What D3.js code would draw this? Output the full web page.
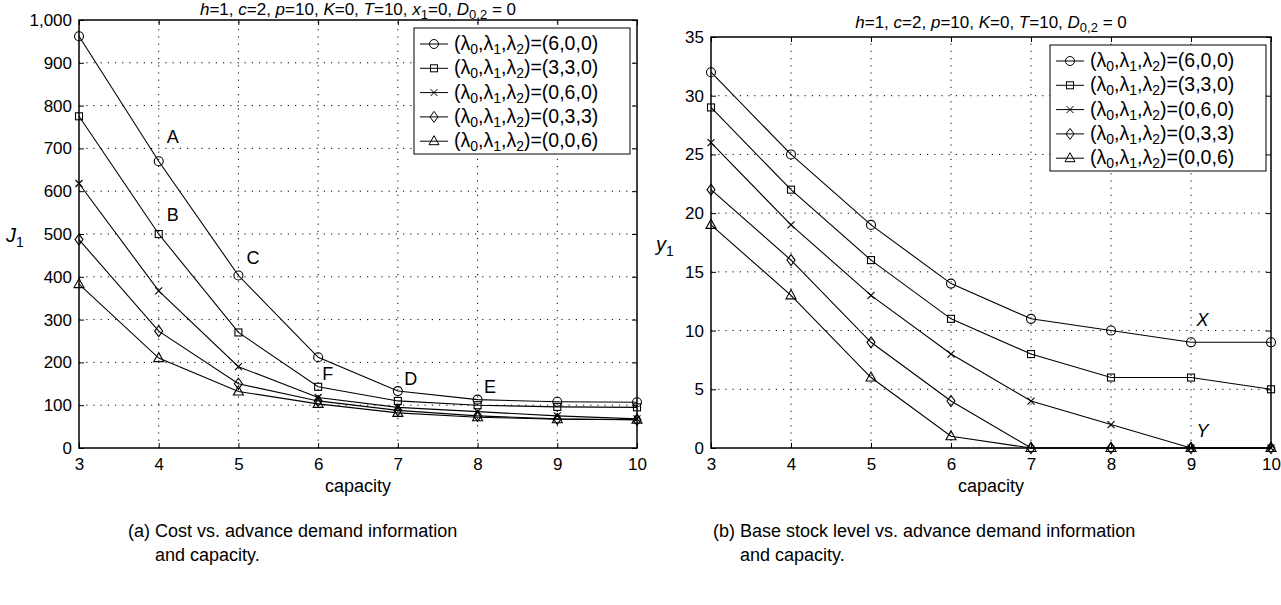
<!DOCTYPE html>
<html>
<head>
<meta charset="utf-8">
<script src="https://cdn.jsdelivr.net/npm/d3@7"></script>
<style>
  body { margin: 0; background: #fff; }
  svg text { font-family: "Liberation Sans", Arial, sans-serif; fill: #000; }
</style>
</head>
<body>
<svg width="1281" height="605"></svg>
<script>
var capacity = [3, 4, 5, 6, 7, 8, 9, 10];
var seriesNames = ["(6,0,0)", "(3,3,0)", "(0,6,0)", "(0,3,3)", "(0,0,6)"];
var markers = ["circle", "square", "cross", "diamond", "triangle"];

// cost J1
var cost600 = [962, 670, 403, 212, 133, 113, 108, 107];
var cost330 = [775, 500, 270, 143, 110, 100, 96, 95];
var cost060 = [618, 367, 190, 118, 95, 85, 75, 68];
var cost033 = [487, 273, 150, 110, 88, 75, 68, 66];
var cost006 = [383, 210, 132, 103, 82, 72, 67, 66];

// base stock y1
var stock600 = [32, 25, 19, 14, 11, 10, 9, 9];
var stock330 = [29, 22, 16, 11, 8, 6, 6, 5];
var stock060 = [26, 19, 13, 8, 4, 2, 0, 0];
var stock033 = [22, 16, 9, 4, 0, 0, 0, 0];
var stock006 = [19, 13, 6, 1, 0, 0, 0, 0];

var costTicks = [0, 100, 200, 300, 400, 500, 600, 700, 800, 900, 1000];
var stockTicks = [0, 5, 10, 15, 20, 25, 30, 35];

var costLabels = [{t: "A", x: 4.1, y: 712}, {t: "B", x: 4.1, y: 530}, {t: "C", x: 5.1, y: 430},
                  {t: "F", x: 6.05, y: 160}, {t: "D", x: 7.08, y: 148}, {t: "E", x: 8.08, y: 128}];
var stockLabels = [{t: "X", x: 9.07, y: 10.4}, {t: "Y", x: 9.07, y: 0.9}];

var svg = d3.select("svg");

function drawMarker(g, type, x, y) {
    if (type === "circle") {
        g.append("circle").attr("cx", x).attr("cy", y).attr("r", 4.5);
    } else if (type === "square") {
        g.append("rect").attr("x", x - 3.5).attr("y", y - 3.5).attr("width", 7).attr("height", 7);
    } else if (type === "cross") {
        g.append("path").attr("d", "M" + (x - 3.5) + "," + (y - 3.5) + "L" + (x + 3.5) + "," + (y + 3.5) +
            "M" + (x - 3.5) + "," + (y + 3.5) + "L" + (x + 3.5) + "," + (y - 3.5));
    } else if (type === "diamond") {
        g.append("path").attr("d", "M" + x + "," + (y - 5.5) + "L" + (x + 4) + "," + y + "L" + x + "," + (y + 5.5) + "L" + (x - 4) + "," + y + "Z");
    } else {
        g.append("path").attr("d", "M" + x + "," + (y - 5.5) + "L" + (x + 5) + "," + (y + 3.5) + "L" + (x - 5) + "," + (y + 3.5) + "Z");
    }
}

function panel(opt) {
    var g = svg.append("g");
    var x = d3.scaleLinear().domain([3, 10]).range([opt.left, opt.right]);
    var y = d3.scaleLinear().domain([0, opt.ymax]).range([opt.bottom, opt.top]);

    // grid
    var grid = g.append("g").attr("stroke", "#000").attr("stroke-width", 1).attr("stroke-dasharray", "1.2,6");
    capacity.slice(1, -1).forEach(function (c) {
        grid.append("line").attr("x1", x(c)).attr("x2", x(c)).attr("y1", opt.bottom).attr("y2", opt.top);
    });
    opt.ticks.slice(1, -1).forEach(function (t) {
        grid.append("line").attr("x1", opt.left).attr("x2", opt.right).attr("y1", y(t)).attr("y2", y(t));
    });

    // axes with inward ticks
    g.append("g").attr("transform", "translate(0," + opt.bottom + ")")
        .call(d3.axisBottom(x).tickValues(capacity).tickSize(-5).tickPadding(10).tickFormat(d3.format("d")))
        .call(function (a) { a.select(".domain").remove(); a.selectAll("text").attr("font-size", 17).style("font-family", null); });
    g.append("g").attr("transform", "translate(0," + opt.top + ")")
        .call(d3.axisTop(x).tickValues(capacity).tickSize(-5).tickFormat(""))
        .call(function (a) { a.select(".domain").remove(); });
    g.append("g").attr("transform", "translate(" + opt.left + ",0)")
        .call(d3.axisLeft(y).tickValues(opt.ticks).tickSize(-5).tickPadding(7).tickFormat(opt.fmt))
        .call(function (a) { a.select(".domain").remove(); a.selectAll("text").attr("font-size", 17).style("font-family", null); });
    g.append("g").attr("transform", "translate(" + opt.right + ",0)")
        .call(d3.axisRight(y).tickValues(opt.ticks).tickSize(-5).tickFormat(""))
        .call(function (a) { a.select(".domain").remove(); });
    g.append("rect").attr("x", opt.left).attr("y", opt.top).attr("width", opt.right - opt.left)
        .attr("height", opt.bottom - opt.top).attr("fill", "none").attr("stroke", "#000").attr("stroke-width", 1.5);

    // series
    var line = d3.line().x(function (d, i) { return x(capacity[i]); }).y(function (d) { return y(d); });
    opt.series.forEach(function (s, k) {
        var sg = g.append("g").attr("fill", "none").attr("stroke", "#000").attr("stroke-width", 1.1);
        sg.append("path").attr("d", line(s));
        s.forEach(function (v, i) { drawMarker(sg, markers[k], x(capacity[i]), y(v)); });
    });

    // letter labels
    opt.labels.forEach(function (l) {
        g.append("text").attr("x", x(l.x)).attr("y", y(l.y)).attr("font-size", 18)
            .attr("font-style", opt.italicLabels ? "italic" : null).text(l.t);
    });

    // title
    var title = g.append("text").attr("x", (opt.left + opt.right) / 2).attr("y", opt.titleY)
        .attr("text-anchor", "middle").attr("font-size", 17);
    opt.title.forEach(function (p) {
        var ts = title.append("tspan").text(p[0]);
        if (p[1] === "i") ts.attr("font-style", "italic");
        if (p[1] === "sub") ts.attr("font-size", 13).attr("dy", 4);
        if (p[1] === "up") ts.attr("dy", -4);
    });

    // axis labels
    g.append("text").attr("x", (opt.left + opt.right) / 2).attr("y", opt.bottom + 44)
        .attr("text-anchor", "middle").attr("font-size", 18).text("capacity");
    var yl = g.append("text").attr("x", opt.ylabX).attr("y", (opt.top + opt.bottom) / 2 + 8).attr("font-size", 20);
    yl.append("tspan").attr("font-style", "italic").text(opt.ylab);
    yl.append("tspan").attr("font-size", 14).attr("dy", 5).text("1");

    // legend
    var lg = g.append("g");
    lg.append("rect").attr("x", opt.legX).attr("y", opt.legY).attr("width", 216).attr("height", 126)
        .attr("fill", "#fff").attr("stroke", "#000").attr("stroke-width", 1);
    seriesNames.forEach(function (n, k) {
        var ry = opt.legY + 16 + k * 24.3;
        var row = lg.append("g").attr("fill", "none").attr("stroke", "#000").attr("stroke-width", 1);
        row.append("line").attr("x1", opt.legX + 6).attr("x2", opt.legX + 34).attr("y1", ry).attr("y2", ry);
        drawMarker(row, markers[k], opt.legX + 20, ry);
        var t = lg.append("text").attr("x", opt.legX + 40).attr("y", ry + 6).attr("font-size", 19.5);
        t.append("tspan").text("(λ");
        t.append("tspan").attr("font-size", 14).attr("dy", 4).text("0");
        t.append("tspan").attr("dy", -4).text(",λ");
        t.append("tspan").attr("font-size", 14).attr("dy", 4).text("1");
        t.append("tspan").attr("dy", -4).text(",λ");
        t.append("tspan").attr("font-size", 14).attr("dy", 4).text("2");
        t.append("tspan").attr("dy", -4).text(")=" + n);
    });

    // caption
    svg.append("text").attr("x", opt.capX).attr("y", 537).attr("font-size", 18).text(opt.cap1);
    svg.append("text").attr("x", opt.capX + 27).attr("y", 561).attr("font-size", 18).text("and capacity.");
}

panel({
    left: 79, right: 637, top: 20, bottom: 448, ymax: 1000, ticks: costTicks,
    fmt: d3.format(","), series: [cost600, cost330, cost060, cost033, cost006],
    labels: costLabels, italicLabels: false, titleY: 15,
    title: [["h", "i"], ["=1, "], ["c", "i"], ["=2, "], ["p", "i"], ["=10, "], ["K", "i"], ["=0, "], ["T", "i"], ["=10, "],
            ["x", "i"], ["1", "sub"], ["=0, ", "up"], ["D", "i"], ["0,2", "sub"], [" = 0", "up"]],
    ylab: "J", ylabX: 6, legX: 414, legY: 28,
    capX: 128, cap1: "(a) Cost vs. advance demand information"
});

panel({
    left: 711, right: 1271, top: 37, bottom: 448, ymax: 35, ticks: stockTicks,
    fmt: d3.format("d"), series: [stock600, stock330, stock060, stock033, stock006],
    labels: stockLabels, italicLabels: true, titleY: 28,
    title: [["h", "i"], ["=1, "], ["c", "i"], ["=2, "], ["p", "i"], ["=10, "], ["K", "i"], ["=0, "], ["T", "i"], ["=10, "],
            ["D", "i"], ["0,2", "sub"], [" = 0", "up"]],
    ylab: "y", ylabX: 656, legX: 1050, legY: 45,
    capX: 713, cap1: "(b) Base stock level vs. advance demand information"
});
</script>
</body>
</html>
